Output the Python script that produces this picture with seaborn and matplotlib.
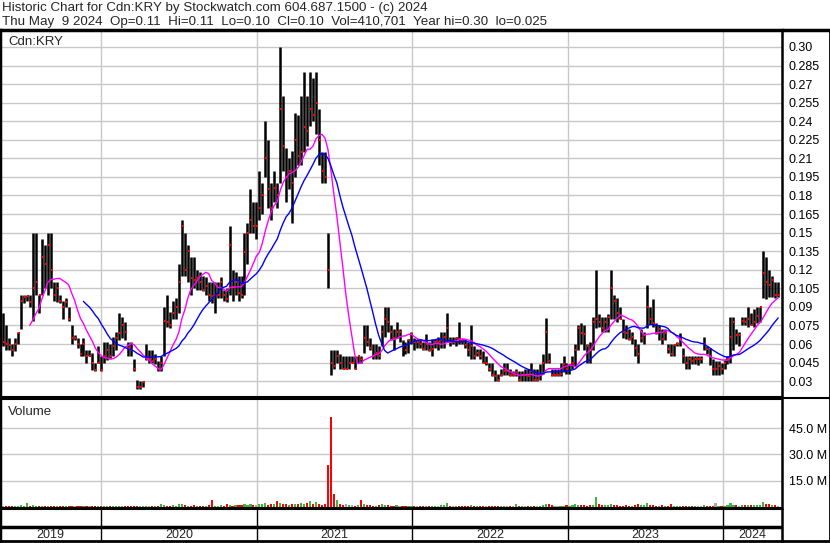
import matplotlib
matplotlib.use('Agg')
import matplotlib.pyplot as plt
from matplotlib.lines import Line2D
import pandas as pd
import numpy as np
import seaborn as sns

sns.set_theme(style='white')
plt.rcParams['font.family'] = ['Liberation Sans', 'DejaVu Sans']

# weekly bars (high / low / close), May 2019 -> May 2024
high = [0.085, 0.075, 0.065, 0.060, 0.065, 0.070, 0.100, 0.100, 0.100, 0.100,
        0.150, 0.150, 0.100, 0.145, 0.140, 0.150, 0.150, 0.110, 0.110, 0.100,
        0.095, 0.097, 0.090, 0.075, 0.067, 0.065, 0.060, 0.065, 0.055, 0.055,
        0.053, 0.045, 0.058, 0.050, 0.062, 0.062, 0.060, 0.066, 0.070, 0.085,
        0.082, 0.078, 0.062, 0.062, 0.048, 0.031, 0.030, 0.030, 0.060, 0.055,
        0.055, 0.052, 0.046, 0.050, 0.090, 0.100, 0.086, 0.095, 0.097, 0.125,
        0.160, 0.150, 0.140, 0.130, 0.130, 0.120, 0.118, 0.115, 0.114, 0.110,
        0.110, 0.110, 0.110, 0.114, 0.104, 0.105, 0.155, 0.120, 0.118, 0.115,
        0.115, 0.150, 0.158, 0.185, 0.175, 0.175, 0.200, 0.190, 0.240, 0.225,
        0.190, 0.200, 0.190, 0.300, 0.260, 0.218, 0.210, 0.216, 0.247, 0.245,
        0.260, 0.280, 0.260, 0.280, 0.275, 0.280, 0.250, 0.215, 0.215, 0.150,
        0.055, 0.055, 0.055, 0.052, 0.050, 0.050, 0.050, 0.050, 0.050, 0.050,
        0.050, 0.075, 0.075, 0.065, 0.060, 0.060, 0.058, 0.075, 0.090, 0.090,
        0.075, 0.072, 0.078, 0.072, 0.063, 0.062, 0.064, 0.070, 0.065, 0.064,
        0.064, 0.062, 0.068, 0.062, 0.064, 0.064, 0.066, 0.070, 0.070, 0.085,
        0.066, 0.066, 0.066, 0.078, 0.064, 0.064, 0.062, 0.075, 0.058, 0.056,
        0.056, 0.054, 0.050, 0.045, 0.045, 0.039, 0.036, 0.040, 0.045, 0.045,
        0.040, 0.038, 0.040, 0.038, 0.038, 0.040, 0.040, 0.045, 0.040, 0.040,
        0.044, 0.052, 0.081, 0.053, 0.040, 0.040, 0.040, 0.045, 0.050, 0.045,
        0.044, 0.050, 0.060, 0.075, 0.077, 0.075, 0.060, 0.062, 0.082, 0.120,
        0.084, 0.082, 0.082, 0.084, 0.120, 0.100, 0.097, 0.090, 0.080, 0.075,
        0.072, 0.070, 0.064, 0.060, 0.072, 0.070, 0.108, 0.090, 0.096, 0.077,
        0.075, 0.072, 0.072, 0.060, 0.060, 0.060, 0.062, 0.069, 0.057, 0.050,
        0.050, 0.050, 0.050, 0.050, 0.050, 0.066, 0.058, 0.057, 0.048, 0.046,
        0.046, 0.045, 0.048, 0.050, 0.082, 0.082, 0.072, 0.070, 0.082, 0.082,
        0.090, 0.085, 0.088, 0.090, 0.090, 0.135, 0.130, 0.120, 0.115, 0.110,
        0.110]
low = [0.058, 0.055, 0.055, 0.050, 0.054, 0.060, 0.072, 0.093, 0.095, 0.090,
       0.079, 0.100, 0.085, 0.100, 0.105, 0.100, 0.105, 0.095, 0.094, 0.093,
       0.080, 0.090, 0.079, 0.060, 0.063, 0.057, 0.050, 0.050, 0.045, 0.050,
       0.039, 0.038, 0.045, 0.038, 0.045, 0.047, 0.048, 0.050, 0.055, 0.063,
       0.065, 0.063, 0.050, 0.050, 0.038, 0.024, 0.024, 0.025, 0.047, 0.045,
       0.045, 0.044, 0.038, 0.038, 0.050, 0.074, 0.073, 0.080, 0.080, 0.085,
       0.115, 0.115, 0.110, 0.100, 0.105, 0.104, 0.104, 0.103, 0.100, 0.095,
       0.093, 0.085, 0.097, 0.097, 0.095, 0.094, 0.100, 0.095, 0.100, 0.095,
       0.097, 0.100, 0.125, 0.150, 0.150, 0.145, 0.160, 0.165, 0.195, 0.170,
       0.160, 0.175, 0.170, 0.190, 0.200, 0.175, 0.185, 0.158, 0.195, 0.205,
       0.205, 0.215, 0.220, 0.236, 0.240, 0.230, 0.205, 0.190, 0.190, 0.105,
       0.035, 0.040, 0.045, 0.040, 0.040, 0.040, 0.040, 0.045, 0.040, 0.045,
       0.045, 0.053, 0.058, 0.055, 0.048, 0.048, 0.048, 0.058, 0.066, 0.070,
       0.063, 0.055, 0.065, 0.062, 0.050, 0.052, 0.053, 0.060, 0.055, 0.057,
       0.057, 0.055, 0.055, 0.054, 0.050, 0.057, 0.055, 0.057, 0.057, 0.062,
       0.058, 0.060, 0.058, 0.060, 0.060, 0.057, 0.050, 0.048, 0.048, 0.050,
       0.048, 0.045, 0.043, 0.038, 0.034, 0.030, 0.030, 0.034, 0.035, 0.035,
       0.034, 0.034, 0.034, 0.030, 0.030, 0.030, 0.030, 0.030, 0.030, 0.030,
       0.031, 0.036, 0.045, 0.045, 0.034, 0.034, 0.034, 0.034, 0.037, 0.036,
       0.036, 0.040, 0.042, 0.055, 0.060, 0.055, 0.045, 0.045, 0.055, 0.073,
       0.074, 0.070, 0.070, 0.070, 0.080, 0.080, 0.078, 0.080, 0.065, 0.064,
       0.063, 0.060, 0.050, 0.045, 0.062, 0.060, 0.073, 0.076, 0.074, 0.068,
       0.063, 0.060, 0.063, 0.053, 0.050, 0.050, 0.058, 0.058, 0.045, 0.040,
       0.040, 0.044, 0.044, 0.043, 0.045, 0.055, 0.052, 0.043, 0.035, 0.035,
       0.035, 0.036, 0.040, 0.044, 0.045, 0.055, 0.060, 0.058, 0.075, 0.075,
       0.074, 0.075, 0.074, 0.077, 0.078, 0.097, 0.096, 0.098, 0.098, 0.097,
       0.098]
close = [0.062, 0.060, 0.059, 0.055, 0.060, 0.069, 0.095, 0.098, 0.099, 0.094,
         0.105, 0.110, 0.100, 0.130, 0.125, 0.140, 0.120, 0.100, 0.105, 0.095,
         0.090, 0.094, 0.080, 0.065, 0.065, 0.060, 0.052, 0.060, 0.050, 0.050,
         0.045, 0.039, 0.045, 0.039, 0.050, 0.055, 0.050, 0.058, 0.065, 0.069,
         0.075, 0.070, 0.057, 0.055, 0.040, 0.025, 0.025, 0.029, 0.048, 0.048,
         0.046, 0.048, 0.040, 0.045, 0.079, 0.078, 0.075, 0.085, 0.090, 0.110,
         0.155, 0.120, 0.135, 0.113, 0.112, 0.113, 0.110, 0.104, 0.107, 0.100,
         0.099, 0.100, 0.100, 0.110, 0.100, 0.096, 0.140, 0.106, 0.110, 0.101,
         0.100, 0.134, 0.150, 0.160, 0.155, 0.155, 0.170, 0.180, 0.210, 0.185,
         0.170, 0.186, 0.180, 0.250, 0.220, 0.195, 0.200, 0.190, 0.225, 0.212,
         0.215, 0.235, 0.232, 0.250, 0.245, 0.255, 0.225, 0.200, 0.195, 0.120,
         0.045, 0.042, 0.050, 0.045, 0.040, 0.040, 0.045, 0.045, 0.040, 0.050,
         0.048, 0.065, 0.062, 0.057, 0.050, 0.053, 0.050, 0.070, 0.080, 0.078,
         0.070, 0.065, 0.070, 0.070, 0.058, 0.055, 0.063, 0.068, 0.062, 0.062,
         0.060, 0.056, 0.060, 0.055, 0.056, 0.062, 0.062, 0.063, 0.066, 0.073,
         0.062, 0.062, 0.065, 0.064, 0.063, 0.059, 0.055, 0.058, 0.050, 0.053,
         0.050, 0.045, 0.045, 0.040, 0.035, 0.034, 0.031, 0.035, 0.038, 0.038,
         0.035, 0.035, 0.037, 0.031, 0.035, 0.035, 0.034, 0.038, 0.031, 0.031,
         0.036, 0.045, 0.070, 0.046, 0.035, 0.035, 0.035, 0.036, 0.044, 0.040,
         0.043, 0.045, 0.055, 0.073, 0.069, 0.068, 0.058, 0.055, 0.078, 0.080,
         0.078, 0.073, 0.078, 0.082, 0.105, 0.095, 0.085, 0.080, 0.070, 0.069,
         0.064, 0.066, 0.057, 0.052, 0.065, 0.067, 0.090, 0.080, 0.077, 0.069,
         0.072, 0.064, 0.069, 0.056, 0.052, 0.059, 0.060, 0.064, 0.050, 0.045,
         0.048, 0.046, 0.048, 0.048, 0.048, 0.060, 0.056, 0.050, 0.040, 0.040,
         0.042, 0.040, 0.045, 0.048, 0.066, 0.078, 0.067, 0.067, 0.079, 0.078,
         0.080, 0.075, 0.078, 0.083, 0.090, 0.117, 0.110, 0.108, 0.112, 0.100,
         0.100]
# weekly volume, millions of shares
volume = [0.6, 0.5, 0.8, 0.4, 0.5, 0.6, 1.0, 0.8, 2.3, 0.7,
          1.2, 0.9, 0.6, 0.8, 0.7, 0.9, 0.6, 0.5, 0.6, 0.5,
          0.5, 0.4, 0.6, 0.5, 0.4, 0.6, 0.5, 0.4, 0.5, 0.6,
          0.5, 0.6, 0.4, 0.5, 0.5, 0.7, 0.5, 0.6, 0.5, 0.6,
          0.5, 0.4, 0.6, 0.5, 0.7, 0.8, 0.6, 0.5, 0.7, 0.5,
          0.6, 0.5, 0.6, 2.0, 1.0, 0.9, 0.8, 1.0, 0.8, 2.0,
          1.5, 1.0, 0.9, 0.8, 1.2, 0.7, 0.8, 0.6, 0.7, 1.0,
          4.0, 0.8, 0.7, 1.0, 0.9, 2.0, 1.2, 0.9, 1.0, 1.3,
          1.0, 1.5, 1.2, 1.8, 1.0, 1.1, 1.5, 1.6, 2.3, 1.4,
          1.5, 2.0, 3.5, 2.5, 1.8, 1.5, 1.3, 1.6, 2.0, 1.8,
          2.5, 1.8, 2.2, 3.5, 1.5, 3.0, 2.0, 1.4, 1.6, 24.0,
          51.0, 7.5, 4.0, 1.8, 1.2, 1.5, 1.0, 1.3, 0.9, 1.0,
          4.0, 1.5, 1.2, 1.0, 0.9, 0.8, 1.0, 1.5, 1.3, 1.0,
          0.9, 0.8, 1.0, 0.8, 0.7, 0.8, 0.7, 0.9, 0.7, 0.8,
          0.6, 0.7, 0.8, 0.6, 0.9, 0.7, 0.8, 1.0, 1.2, 2.5,
          0.9, 0.8, 0.7, 0.8, 0.6, 0.7, 0.6, 1.2, 0.7, 0.6,
          0.5, 0.6, 0.7, 0.5, 0.6, 0.5, 0.6, 0.5, 0.6, 0.5,
          0.6, 0.5, 1.5, 0.6, 0.5, 0.6, 0.7, 0.6, 0.5, 0.6,
          0.8, 1.2, 2.0, 1.5, 1.0, 0.7, 0.6, 0.8, 0.9, 1.0,
          0.7, 1.2, 1.5, 1.3, 1.0, 1.2, 0.9, 1.0, 1.4, 6.0,
          1.5, 1.2, 1.0, 1.0, 1.8, 1.2, 1.0, 0.9, 0.8, 1.0,
          0.9, 0.8, 1.0, 2.0, 1.1, 1.0, 2.5, 1.2, 1.0, 0.9,
          0.8, 1.0, 0.8, 0.9, 2.0, 0.8, 0.7, 0.8, 0.9, 0.7,
          0.8, 0.7, 0.8, 0.7, 0.9, 1.0, 0.8, 0.7, 0.9, 2.5,
          0.8, 0.7, 0.9, 1.0, 2.5, 1.2, 1.0, 0.9, 1.0, 1.1,
          1.0, 1.2, 1.0, 1.1, 1.3, 3.0, 1.8, 1.5, 1.2, 1.0,
          0.4]

price_ticks = [0.03, 0.045, 0.06, 0.075, 0.09, 0.105, 0.12, 0.135, 0.15, 0.165,
               0.18, 0.195, 0.21, 0.225, 0.24, 0.255, 0.27, 0.285, 0.30]
price_labels = ['0.03', '0.045', '0.06', '0.075', '0.09', '0.105', '0.12', '0.135',
                '0.15', '0.165', '0.18', '0.195', '0.21', '0.225', '0.24', '0.255',
                '0.27', '0.285', '0.30']
vol_ticks = [15, 30, 45]
vol_labels = ['15.0 M', '30.0 M', '45.0 M']
year_labels = ['2019', '2020', '2021', '2022', '2023', '2024']

title1 = 'Historic Chart for Cdn:KRY by Stockwatch.com 604.687.1500 - (c) 2024'
title2 = 'Thu May  9 2024  Op=0.11  Hi=0.11  Lo=0.10  Cl=0.10  Vol=410,701  Year hi=0.30  lo=0.025'

dates = pd.date_range(end='2024-05-09', periods=len(close), freq='7D')
df = pd.DataFrame({'date': dates, 'high': high, 'low': low, 'close': close, 'volume': volume})
df['ma_fast'] = df['close'].rolling(10).mean()
df['ma_slow'] = df['close'].rolling(20).mean()
df.loc[:26, 'ma_slow'] = np.nan  # slow average only shown after ~half a year of data
chg = df['close'].diff().fillna(0)
vcol = np.where(chg > 0, '#3cb83c', np.where(chg < 0, '#ff0000', '#a8a8a8'))

W, H = 830, 543
def box(x0, y0, x1, y1):
    return [x0 / W, 1 - y1 / H, (x1 - x0) / W, (y1 - y0) / H]

fig = plt.figure(figsize=(W / 100, H / 100), dpi=100)
fig.patch.set_facecolor('white')
ax = fig.add_axes(box(0, 30, 782, 397))
axv = fig.add_axes(box(0, 399, 782, 508))
axy = fig.add_axes(box(0, 509, 782, 541))

xlim = (pd.Timestamp('2019-05-09'), pd.Timestamp('2024-05-18'))
years = [pd.Timestamp(f'{y}-01-01') for y in range(2020, 2025)]
grid_c = '#c8c8c8'

# ---- price panel
ax.vlines(df['date'], df['low'], df['high'], color='black', lw=1.8)
ax.plot(df['date'] + pd.Timedelta(days=2), df['close'], 's', color='red', ms=1.8, mew=0)
sns.lineplot(data=df, x='date', y='ma_fast', ax=ax, color='#ff00ff', lw=1)
sns.lineplot(data=df, x='date', y='ma_slow', ax=ax, color='#0000ff', lw=1)
ax.set_xlim(xlim)
ax.set_ylim(0.0172, 0.3137)
ax.set_xticks(years)
ax.set_yticks(price_ticks)
ax.set_yticklabels(price_labels)
ax.yaxis.tick_right()
ax.tick_params(axis='y', length=0, pad=5, labelsize=9, labelcolor='black')
ax.tick_params(axis='x', length=0, labelbottom=False)
ax.grid(True, color=grid_c, lw=1)
ax.set_axisbelow(True)
ax.set_xlabel('')
ax.set_ylabel('')
ax.text(8 / 782, 1 - 12 / 367, 'Cdn:KRY', transform=ax.transAxes, fontsize=9.5, va='center')

# ---- volume panel
axv.bar(df['date'], df['volume'], width=5, color=vcol, lw=0)
axv.set_xlim(xlim)
axv.set_ylim(-0.5, 61.5)
axv.set_xticks(years)
axv.set_yticks(vol_ticks)
axv.set_yticklabels(vol_labels)
axv.yaxis.tick_right()
axv.tick_params(axis='y', length=0, pad=5, labelsize=9, labelcolor='black')
axv.tick_params(axis='x', length=0, labelbottom=False)
axv.grid(True, color=grid_c, lw=1)
axv.set_axisbelow(True)
axv.text(8 / 782, 1 - 13 / 109, 'Volume', transform=axv.transAxes, fontsize=9.5, va='center')

# ---- year strip
axy.set_xlim(xlim)
axy.set_ylim(0, 1)
axy.set_xticks([])
axy.set_yticks([])
axy.axhline(0.44, color='black', lw=2.5)
for yr in years:
    axy.axvline(yr, color='black', lw=1)
bounds = [xlim[0]] + years + [xlim[1]]
for i, lab in enumerate(year_labels):
    mid = bounds[i] + (bounds[i + 1] - bounds[i]) / 2
    axy.text(mid, 0.2, lab, ha='center', va='center', fontsize=9)

for a in (ax, axv, axy):
    for s in a.spines.values():
        s.set_color('black')
        s.set_visible(True)
    a.spines['left'].set_linewidth(2.5)
    a.spines['right'].set_linewidth(1.8)
    a.spines['bottom'].set_linewidth(1.5)
    a.spines['top'].set_linewidth(1.5)
ax.spines['top'].set_linewidth(2.5)
axy.spines['bottom'].set_linewidth(2)

# outer frame pieces on the label side
fig.add_artist(Line2D([1, 1], [1 - 30 / H, 1 - 541 / H], transform=fig.transFigure, color='black', lw=2))
fig.add_artist(Line2D([782 / W, 1], [1 - 30 / H, 1 - 30 / H], transform=fig.transFigure, color='black', lw=2.5))
fig.add_artist(Line2D([782 / W, 1], [1 - 541 / H, 1 - 541 / H], transform=fig.transFigure, color='black', lw=2))
fig.add_artist(Line2D([782 / W, 1], [1 - 398 / H, 1 - 398 / H], transform=fig.transFigure, color='black', lw=1.5))

fig.text(2 / W, 1 - 8 / H, title1, fontsize=9.6, va='center')
fig.text(2 / W, 1 - 22 / H, title2, fontsize=9.6, va='center')

fig.savefig('out.png', dpi=100)
